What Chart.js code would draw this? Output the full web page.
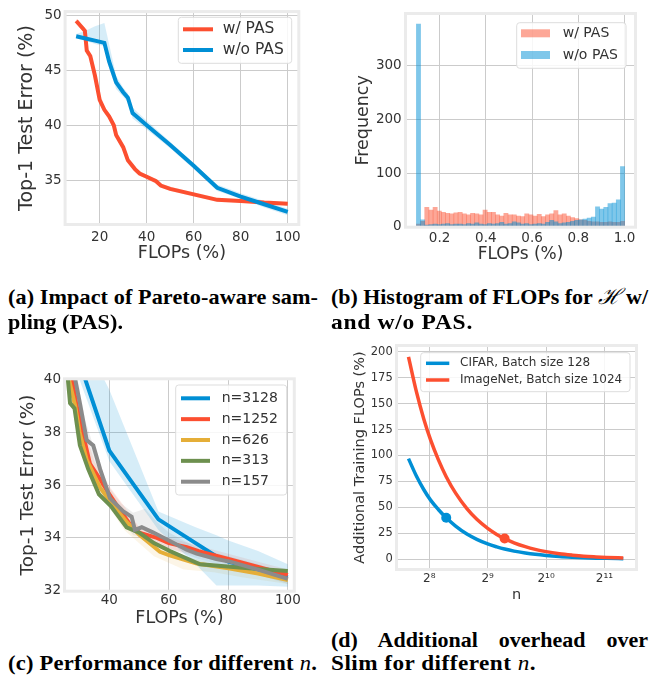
<!DOCTYPE html>
<html>
<head>
<meta charset="utf-8">
<title>PAS</title>
<script src="https://cdn.jsdelivr.net/npm/chart.js@4.4.1/dist/chart.umd.min.js"></script>
<style>
  html, body { margin: 0; background: #fff; }
  body { position: relative; width: 650px; height: 675px; overflow: hidden; }
  .panel { position: absolute; }
  .cap { position: absolute; font-family: 'Liberation Serif', 'DejaVu Serif', serif; font-weight: bold;
         font-size: 22px; line-height: 25px; color: #000; white-space: nowrap; z-index: 2; }
  .cap i, .cap .h { font-weight: normal; }
  .cap.just { white-space: normal; text-align: justify; text-align-last: justify; }
</style>
</head>
<body>
<div class="panel" style="left:0;top:0;width:315px;height:270px"><canvas id="grafA"></canvas></div>
<div class="panel" style="left:320px;top:0;width:330px;height:270px"><canvas id="grafB"></canvas></div>
<div class="panel" style="left:0;top:330px;width:315px;height:300px"><canvas id="grafC"></canvas></div>
<div class="panel" style="left:320px;top:330px;width:330px;height:280px"><canvas id="grafD"></canvas></div>

<div class="cap" data-w="310" style="left:8px;top:284px">(a) Impact of Pareto-aware sam-</div>
<div class="cap" data-w="115" style="left:8px;top:309px">pling (PAS).</div>
<div class="cap" data-w="317" style="left:331px;top:284px">(b) Histogram of FLOPs for <span class="h"><i>ℋ</i></span> w/</div>
<div class="cap" data-w="142" style="left:331px;top:309px">and w/o PAS.</div>
<div class="cap" data-w="309" style="left:8px;top:650px">(c) Performance for different <i>n</i>.</div>
<div class="cap just" style="left:331px;top:627px;width:317px">(d) Additional overhead over</div>
<div class="cap" data-w="205" style="left:331px;top:650px">Slim for different <i>n</i>.</div>

<script>
// (a) Top-1 error vs FLOPs, with and without Pareto-aware sampling
const flopsPas = [10, 13.7, 14.5, 16, 18, 20, 22, 24, 26, 27, 30, 32, 35, 37, 40, 44, 46, 50, 60, 70, 80, 90, 100];
const errPas = [49.5, 48.6, 46.8, 46.3, 44.5, 42.3, 41.4, 40.8, 40.0, 39.1, 38.0, 36.8, 36.0, 35.6, 35.3, 34.9, 34.5, 34.2, 33.7, 33.2, 33.1, 32.95, 32.85];
const errPasHigh = [49.7, 48.9, 47.2, 46.6, 44.8, 42.6, 41.7, 41.0, 40.2, 39.3, 38.2, 37.0, 36.2, 35.8, 35.5, 35.1, 34.7, 34.4, 33.9, 33.4, 33.25, 33.1, 33.0];
const errPasLow = [49.3, 48.3, 46.4, 46.0, 44.2, 42.0, 41.1, 40.6, 39.8, 38.9, 37.8, 36.6, 35.8, 35.4, 35.1, 34.7, 34.3, 34.0, 33.5, 33.0, 32.95, 32.8, 32.7];

const flopsNoPas = [10, 14, 18, 22, 24, 27, 30, 32, 34, 40, 50, 60, 70, 80, 90, 100];
const errNoPas = [48.1, 47.9, 47.7, 47.5, 45.8, 43.9, 43.0, 42.5, 41.1, 40.0, 38.2, 36.3, 34.3, 33.5, 32.8, 32.1];
const errNoPasHigh = [48.3, 48.6, 49.0, 49.3, 47.4, 44.5, 43.4, 42.9, 41.6, 40.4, 38.5, 36.5, 34.6, 33.8, 33.1, 32.4];
const errNoPasLow = [47.9, 47.7, 47.4, 47.2, 45.2, 43.3, 42.6, 42.1, 40.6, 39.6, 37.9, 36.0, 34.0, 33.3, 32.5, 31.8];

const xTicksA = [20, 40, 60, 80, 100];
const yTicksA = [35, 40, 45, 50];

// (b) Histogram of sampled FLOPs (50 bins between 0.1 and 1.0)
const binCenters = [0.109, 0.127, 0.145, 0.163, 0.181, 0.199, 0.217, 0.235, 0.253, 0.271,
  0.289, 0.307, 0.325, 0.343, 0.361, 0.379, 0.397, 0.415, 0.433, 0.451,
  0.469, 0.487, 0.505, 0.523, 0.541, 0.559, 0.577, 0.595, 0.613, 0.631,
  0.649, 0.667, 0.685, 0.703, 0.721, 0.739, 0.757, 0.775, 0.793, 0.811,
  0.829, 0.847, 0.865, 0.883, 0.901, 0.919, 0.937, 0.955, 0.973, 0.991];
const countPas = [5, 10, 36, 31, 36, 29, 27, 25, 24, 26, 27, 24, 22, 25, 24, 22, 31, 27, 27, 22,
  20, 25, 22, 22, 20, 19, 24, 22, 20, 23, 19, 22, 24, 30, 22, 24, 20, 17, 15, 13,
  12, 10, 9, 9, 8, 8, 9, 8, 8, 10];
const countNoPas = [378, 13, 3, 4, 5, 4, 5, 6, 4, 5, 5, 4, 6, 5, 7, 5, 4, 6, 5, 6,
  8, 5, 6, 9, 7, 5, 6, 4, 5, 6, 5, 8, 12, 9, 6, 7, 8, 10, 12, 13,
  14, 16, 18, 37, 33, 36, 43, 44, 50, 112];
const xTicksB = [0.2, 0.4, 0.6, 0.8, 1.0];
const xLabelsB = ['0.2', '0.4', '0.6', '0.8', '1.0'];
const yTicksB = [0, 100, 200, 300];

// (c) Top-1 error for different n
const flops3128 = [28, 40, 56.5, 69, 76, 80, 90, 100];
const err3128 = [41.3, 37.3, 34.7, 33.8, 33.3, 33.1, 32.8, 32.5];
const err3128High = [42.3, 39.6, 35.0, 34.4, 34.1, 33.9, 33.5, 33.0];
const err3128Low = [40.6, 36.9, 34.3, 33.0, 32.2, 32.2, 32.2, 32.15];

const flops1252 = [27, 29, 31, 33.5, 37, 39.7, 43.6, 47, 50, 56, 60, 66, 70, 80, 90, 100];
const err1252 = [40.3, 39.0, 38.0, 36.8, 36.2, 35.7, 35.05, 34.5, 34.2, 34.0, 33.8, 33.65, 33.5, 33.2, 32.9, 32.6];
const flopsBand1252 = [27, 31, 35, 40, 45, 50, 60, 70, 80, 90, 100];
const err1252High = [40.6, 38.3, 36.9, 35.95, 35.2, 34.4, 34.0, 33.7, 33.4, 33.1, 32.8];
const err1252Low = [40.0, 37.7, 36.2, 35.4, 34.6, 34.0, 33.6, 33.3, 33.0, 32.7, 32.4];

const flops626 = [26, 28.5, 30, 32.4, 36.9, 40.8, 45.8, 50.3, 57, 60, 69.4, 80, 90, 100];
const err626 = [40.2, 39.0, 38.0, 36.95, 35.9, 35.3, 34.6, 34.1, 33.47, 33.35, 33.03, 32.85, 32.65, 32.4];
const flopsBand626 = [26, 35, 45, 55, 65, 75, 85, 100];
const err626High = [40.4, 36.5, 34.9, 33.8, 33.3, 33.05, 32.85, 32.55];
const err626Low = [39.8, 36.0, 34.3, 33.3, 32.8, 32.7, 32.5, 32.25];

const flops313 = [25.9, 26.8, 28.3, 30.1, 32.9, 36.5, 40.5, 45.8, 50, 55, 60.4, 70.5, 81.7, 90, 100];
const err313 = [40.2, 39.1, 38.9, 37.5, 36.6, 35.65, 35.2, 34.4, 34.2, 33.8, 33.5, 33.0, 32.9, 32.82, 32.75];

const flops157 = [28, 30.1, 32.4, 34.6, 36.9, 40.2, 44.7, 47.5, 48.6, 50.9, 54.8, 60, 66, 69.4, 76, 80.6, 90, 100];
const err157 = [40.3, 39.1, 37.7, 37.5, 36.6, 35.5, 35.0, 34.8, 34.3, 34.4, 34.2, 33.9, 33.55, 33.4, 33.2, 33.1, 32.8, 32.45];
const flopsBand157 = [28, 32, 36, 40, 44, 48, 52, 56, 60, 70, 80, 90, 100];
const err157High = [40.8, 38.4, 37.0, 35.9, 35.3, 34.95, 35.1, 34.6, 34.2, 33.6, 33.3, 33.0, 32.65];
const err157Low = [39.8, 37.3, 36.1, 35.2, 34.7, 34.1, 34.0, 33.8, 33.6, 33.2, 32.9, 32.6, 32.25];

const xTicksC = [40, 60, 80, 100];
const yTicksC = [32, 34, 36, 38, 40];

// (d) Extra training FLOPs over Slim vs n
const nValues = [200, 220, 240, 260, 285, 313, 350, 400, 450, 512, 570, 626, 700, 800, 900, 1024, 1200, 1400, 1600, 1850, 2100, 2560];
const cifarOverhead = [97, 80, 67, 57, 48, 40, 32, 24.3, 19.2, 14.8, 12, 9.9, 7.9, 6.1, 4.8, 3.7, 2.7, 2.0, 1.5, 1.1, 0.9, 0.6];
const imagenetOverhead = [195, 161, 135, 115, 96, 79.6, 63.7, 48.8, 38.5, 29.8, 24, 19.9, 15.9, 12.2, 9.6, 7.4, 5.4, 4.0, 3.0, 2.3, 1.8, 1.2];
const markerN = [313, 626];
const markerOverhead = [40, 20];
const xTicksD = [256, 512, 1024, 2048];
const xLabelsD = ['2⁸', '2⁹', '2¹⁰', '2¹¹'];
const yTicksD = [0, 25, 50, 75, 100, 125, 150, 175, 200];

const red = '#fc4f30', blue = '#008fd5', yellow = '#e5ae38', green = '#6d904f', gray = '#8b8b8b';
const gridColor = '#cbcbcb';

Chart.defaults.font.family = "'DejaVu Sans', sans-serif";
Chart.defaults.color = '#333333';
Chart.defaults.animation = false;

const toPoints = (xs, ys) => xs.map((x, i) => ({ x: x, y: ys[i] }));

const line = (label, xs, ys, color, width, order) => ({
  label: label, data: toPoints(xs, ys), borderColor: color, borderWidth: width,
  pointRadius: 0, clip: 0, inLegend: true, order: order
});

const band = (xs, hi, lo, color) => [
  { data: toPoints(xs, hi), fill: '+1', backgroundColor: color, borderColor: 'transparent', borderWidth: 0, pointRadius: 0, clip: 0, order: 20 },
  { data: toPoints(xs, lo), fill: false, borderColor: 'transparent', borderWidth: 0, pointRadius: 0, clip: 0, order: 20 }
];

function axis(o) {
  const ax = {
    type: o.type || 'linear',
    min: o.min,
    max: o.max,
    offset: false,
    afterBuildTicks: s => { s.ticks = o.ticks.map(v => ({ value: v })); },
    afterFit: s => { if (s.isHorizontal()) s.height = o.size; else s.width = o.size; },
    grid: { color: gridColor, lineWidth: 1, drawTicks: false, offset: false },
    border: { display: false },
    ticks: { padding: o.pad, autoSkip: false, maxRotation: 0, font: { size: o.font } },
    title: { display: true, text: o.title, color: '#333333', font: { size: o.titleFont }, padding: o.titlePad }
  };
  if (o.labels) ax.ticks.callback = (v, i) => o.labels[i];
  return ax;
}

// light frame round the axes and a matplotlib-like legend inside the plot
const frameLegend = {
  id: 'frameLegend',
  afterDatasetsDraw(chart, args, o) {
    const { ctx, chartArea: a } = chart;
    ctx.save();
    ctx.strokeStyle = '#ebebeb';
    ctx.lineWidth = 3;
    ctx.strokeRect(a.left - 0.5, a.top - 0.5, a.right - a.left + 1, a.bottom - a.top + 1);
    if (o.box) {
      const [bx, by, bw, bh] = o.box;
      ctx.beginPath();
      if (ctx.roundRect) ctx.roundRect(bx, by, bw, bh, 3); else ctx.rect(bx, by, bw, bh);
      ctx.fillStyle = 'rgba(255,255,255,0.85)';
      ctx.fill();
      ctx.lineWidth = 1;
      ctx.strokeStyle = '#dddddd';
      ctx.stroke();
      ctx.font = o.font;
      ctx.textBaseline = 'middle';
      chart.data.datasets.filter(d => d.inLegend).forEach((d, i) => {
        const y = o.rowY + i * o.rowGap;
        if (o.patch) {
          ctx.fillStyle = d.backgroundColor;
          ctx.fillRect(o.handle[0], y - o.patch / 2, o.handle[1] - o.handle[0], o.patch);
        } else {
          ctx.strokeStyle = d.borderColor;
          ctx.lineWidth = d.borderWidth;
          ctx.beginPath();
          ctx.moveTo(o.handle[0], y);
          ctx.lineTo(o.handle[1], y);
          ctx.stroke();
        }
        ctx.fillStyle = '#333333';
        ctx.fillText(d.label, o.textX, y);
      });
    }
    ctx.restore();
  }
};

const basePlugins = (legendBox) => ({
  legend: { display: false },
  tooltip: { enabled: false },
  filler: { propagate: false, drawTime: 'beforeDatasetsDraw' },
  frameLegend: legendBox
});

// (a)
new Chart(document.getElementById('grafA'), {
  type: 'line',
  data: {
    datasets: [
      ...band(flopsPas, errPasHigh, errPasLow, 'rgba(252,79,48,0.15)'),
      ...band(flopsNoPas, errNoPasHigh, errNoPasLow, 'rgba(0,143,213,0.16)'),
      line('w/ PAS', flopsPas, errPas, red, 4, 2),
      line('w/o PAS', flopsNoPas, errNoPas, blue, 4, 1)
    ]
  },
  options: {
    responsive: true,
    maintainAspectRatio: false,
    layout: { padding: { top: 11.7, right: 16.7, left: 0, bottom: 0 } },
    scales: {
      x: axis({ min: 5.5, max: 104.5, ticks: xTicksA, size: 46, pad: 5, font: 13.5,
        title: 'FLOPs (%)', titleFont: 17.5, titlePad: { top: 0, bottom: 6.5 } }),
      y: axis({ min: 31, max: 50.3, ticks: yTicksA, size: 65.6, pad: 4, font: 13.5,
        title: 'Top-1 Test Error (%)', titleFont: 19, titlePad: { top: 15.6, bottom: 0 } })
    },
    plugins: basePlugins({ box: [178.3, 17.3, 113.4, 46], rowY: 29.3, rowGap: 20.7,
      handle: [183, 213], textX: 222.7, font: "15.5px 'DejaVu Sans'" })
  },
  plugins: [frameLegend]
});

// (b)
new Chart(document.getElementById('grafB'), {
  type: 'bar',
  data: {
    datasets: [
      { label: 'w/ PAS', data: toPoints(binCenters, countPas), backgroundColor: 'rgba(252,79,48,0.5)', inLegend: true, order: 2 },
      { label: 'w/o PAS', data: toPoints(binCenters, countNoPas), backgroundColor: 'rgba(0,143,213,0.5)', inLegend: true, order: 1 }
    ]
  },
  options: {
    responsive: true,
    maintainAspectRatio: false,
    datasets: { bar: { barPercentage: 1, categoryPercentage: 1, grouped: false, borderWidth: 0 } },
    layout: { padding: { top: 14, right: 15, left: 0, bottom: 0 } },
    scales: {
      x: axis({ min: 0.055, max: 1.045, ticks: xTicksB, labels: xLabelsB, size: 43.3, pad: 3.2, font: 13.5,
        title: 'FLOPs (%)', titleFont: 17, titlePad: { top: 0, bottom: 4.8 } }),
      y: axis({ min: 0, max: 397, ticks: yTicksB, size: 86, pad: 4.3, font: 13.5,
        title: 'Frequency', titleFont: 17.5, titlePad: { top: 32.8, bottom: 0 } })
    },
    plugins: basePlugins({ box: [196.7, 22.7, 109.3, 45.6], rowY: 33.3, rowGap: 21.7,
      handle: [201, 230], patch: 8, textX: 242.7, font: "14px 'DejaVu Sans'" })
  },
  plugins: [frameLegend]
});

// (c)
new Chart(document.getElementById('grafC'), {
  type: 'line',
  data: {
    datasets: [
      ...band(flops3128, err3128High, err3128Low, 'rgba(0,143,213,0.16)'),
      ...band(flopsBand1252, err1252High, err1252Low, 'rgba(252,79,48,0.12)'),
      ...band(flopsBand626, err626High, err626Low, 'rgba(229,174,56,0.12)'),
      ...band(flopsBand157, err157High, err157Low, 'rgba(139,139,139,0.15)'),
      line('n=3128', flops3128, err3128, blue, 4, 5),
      line('n=1252', flops1252, err1252, red, 4, 4),
      line('n=626', flops626, err626, yellow, 4, 3),
      line('n=313', flops313, err313, green, 4, 2),
      line('n=157', flops157, err157, gray, 4, 1)
    ]
  },
  options: {
    responsive: true,
    maintainAspectRatio: false,
    layout: { padding: { top: 49.3, right: 21.2, left: 0, bottom: 0 } },
    scales: {
      x: axis({ min: 25.1, max: 102, ticks: xTicksC, size: 39.3, pad: 1.9, font: 13.5,
        title: 'FLOPs (%)', titleFont: 17.5, titlePad: { top: 0, bottom: 1.2 } }),
      y: axis({ min: 32, max: 40, ticks: yTicksC, size: 65, pad: 4, font: 13.5,
        title: 'Top-1 Test Error (%)', titleFont: 18.5, titlePad: { top: 17.2, bottom: 0 } })
    },
    plugins: basePlugins({ box: [175.7, 55, 111, 110], rowY: 68.3, rowGap: 20.85,
      handle: [181, 210], textX: 221.7, font: "14px 'DejaVu Sans'" })
  },
  plugins: [frameLegend]
});

// (d)
new Chart(document.getElementById('grafD'), {
  type: 'line',
  data: {
    datasets: [
      Object.assign(line('CIFAR, Batch size 128', nValues, cifarOverhead, blue, 3.5, 3), { cubicInterpolationMode: 'monotone' }),
      Object.assign(line('ImageNet, Batch size 1024', nValues, imagenetOverhead, red, 3.5, 2), { cubicInterpolationMode: 'monotone' }),
      { data: [{ x: markerN[0], y: markerOverhead[0] }], showLine: false, pointRadius: 5, pointBackgroundColor: blue, pointBorderWidth: 0, order: 0 },
      { data: [{ x: markerN[1], y: markerOverhead[1] }], showLine: false, pointRadius: 5, pointBackgroundColor: red, pointBorderWidth: 0, order: 0 }
    ]
  },
  options: {
    responsive: true,
    maintainAspectRatio: false,
    layout: { padding: { top: 16, right: 14, left: 0, bottom: 0 } },
    scales: {
      x: axis({ type: 'logarithmic', min: 174.5, max: 2977, ticks: xTicksD, labels: xLabelsD, size: 41, pad: 2.4, font: 12,
        title: 'n', titleFont: 14.5, titlePad: { top: 0, bottom: 6.3 } }),
      y: axis({ min: -9.35, max: 205.5, ticks: yTicksD, size: 77, pad: 4.3, font: 11.5,
        title: 'Additional Training FLOPs (%)', titleFont: 14.5, titlePad: { top: 31.3, bottom: 0 } })
    },
    plugins: basePlugins({ box: [100.7, 22.7, 209.3, 39], rowY: 33.3, rowGap: 16.7,
      handle: [106, 129.3], textX: 140, font: "12px 'DejaVu Sans'" })
  },
  plugins: [frameLegend]
});

// fit each caption line to the width it has in the paper: half by stretching, half by spacing
document.fonts.ready.then(() => {
  document.querySelectorAll('.cap[data-w]').forEach(el => {
    const target = Number(el.dataset.w);
    const natural = el.getBoundingClientRect().width;
    const stretch = 1 + (target / natural - 1) / 2;
    el.style.letterSpacing = ((target / stretch - natural) / el.textContent.length) + 'px';
    el.style.transformOrigin = 'left center';
    el.style.transform = 'scaleX(' + stretch + ')';
  });
});
</script>
</body>
</html>
